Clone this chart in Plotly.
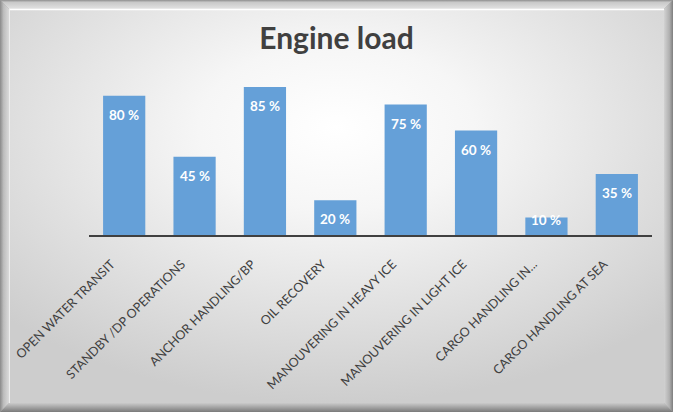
import base64
import plotly.graph_objects as go

# ---- data ----
categories = [
    "OPEN WATER TRANSIT",
    "STANDBY /DP OPERATIONS",
    "ANCHOR HANDLING/BP",
    "OIL RECOVERY",
    "MANOUVERING IN HEAVY ICE",
    "MANOUVERING IN LIGHT ICE",
    "CARGO HANDLING IN...",
    "CARGO HANDLING AT SEA",
]
engine_load = [0.80, 0.45, 0.85, 0.20, 0.75, 0.60, 0.10, 0.35]
title_text = "Engine load"

# ---- layout geometry ----
W, H = 673, 412
ML, MR, MT, MB = 89, 21, 61, 177
PW, PH = W - ML - MR, H - MT - MB
FONT = "Lato, 'Open Sans', sans-serif"
BAR_COLOR = "#65A0D8"
TEXT_GRAY = "#404040"

# ---- background (bevelled frame + radial highlight) ----
svg = f"""<svg xmlns='http://www.w3.org/2000/svg' width='{W}' height='{H}' viewBox='0 0 {W} {H}' preserveAspectRatio='none'>
<defs>
<radialGradient id='g' cx='50%' cy='30%' r='70%'>
<stop offset='0' stop-color='#ffffff'/>
<stop offset='0.3' stop-color='#f6f6f6'/>
<stop offset='1' stop-color='#cdcdcd'/>
</radialGradient>
<linearGradient id='lt' x1='0' x2='0' y1='0' y2='1'>
<stop offset='0' stop-color='#8e8e8e'/><stop offset='0.25' stop-color='#c8c8c8'/><stop offset='1' stop-color='#e2e2e2'/>
</linearGradient>
<linearGradient id='lb' x1='0' x2='0' y1='0' y2='1'>
<stop offset='0' stop-color='#cacaca'/><stop offset='1' stop-color='#7a7a7a'/>
</linearGradient>
<linearGradient id='ll' x1='0' x2='1' y1='0' y2='0'>
<stop offset='0' stop-color='#8a8a8a'/><stop offset='0.4' stop-color='#bdbdbd'/><stop offset='1' stop-color='#dadada'/>
</linearGradient>
<linearGradient id='lr' x1='0' x2='1' y1='0' y2='0'>
<stop offset='0' stop-color='#d2d2d2'/><stop offset='0.6' stop-color='#b0b0b0'/><stop offset='1' stop-color='#7e7e7e'/>
</linearGradient>
</defs>
<rect width='{W}' height='{H}' fill='#a0a0a0'/>
<polygon points='0,0 {W},0 {W-9},9 9,9' fill='url(#lt)'/>
<polygon points='0,{H} {W},{H} {W-9},{H-9} 9,{H-9}' fill='url(#lb)'/>
<polygon points='0,0 9,9 9,{H-9} 0,{H}' fill='url(#ll)'/>
<polygon points='{W},0 {W-9},9 {W-9},{H-9} {W},{H}' fill='url(#lr)'/>
<rect x='9' y='9' width='{W-18}' height='{H-18}' fill='url(#g)'/>
<line x1='9' y1='9.5' x2='{W-9}' y2='9.5' stroke='#ffffff' stroke-width='1.5'/>
<line x1='9.5' y1='9' x2='9.5' y2='{H-9}' stroke='#eeeeee' stroke-width='1'/>
</svg>"""
bg_src = "data:image/svg+xml;base64," + base64.b64encode(svg.encode()).decode()

fig = go.Figure()
fig.add_trace(go.Bar(
    x=categories,
    y=engine_load,
    marker=dict(color=BAR_COLOR, line=dict(width=0)),
    hoverinfo="x+y",
))

# data labels: inside end, white bold
px_per_unit = PH / 1.0
annotations = []
for c, v in zip(categories, engine_load):
    offset = min(19, v * px_per_unit - 15)
    annotations.append(dict(
        x=c, y=v, xref="x", yref="y",
        text=f"<b>{round(v * 100)} %</b>",
        showarrow=False, yanchor="middle", yshift=-offset,
        font=dict(family=FONT, size=13.5, color="white"),
    ))

fig.update_layout(
    width=W, height=H,
    margin=dict(l=ML, r=MR, t=MT, b=MB, pad=0, autoexpand=False),
    paper_bgcolor="#d0d0d0",
    plot_bgcolor="rgba(0,0,0,0)",
    bargap=0.4,
    showlegend=False,
    title=dict(
        text=f"<b>{title_text}</b>",
        x=0.5, xanchor="center",
        y=1 - 38 / H, yanchor="middle", yref="container",
        font=dict(family=FONT, size=30, color=TEXT_GRAY),
    ),
    xaxis=dict(
        showline=True, linecolor=TEXT_GRAY, linewidth=2,
        showgrid=False, ticks="", tickangle=-45,
        tickfont=dict(family=FONT, size=12.5, color=TEXT_GRAY),
        ticklabelshift=-13, ticklabelstandoff=15,
        automargin=False, fixedrange=True,
    ),
    yaxis=dict(
        range=[0, 1], visible=False, showgrid=False, zeroline=False,
        automargin=False, fixedrange=True,
    ),
    annotations=annotations,
    images=[dict(
        source=bg_src, xref="paper", yref="paper",
        x=-ML / PW, y=1 + MT / PH, sizex=W / PW, sizey=H / PH,
        xanchor="left", yanchor="top", sizing="stretch", layer="below",
    )],
)

fig.write_html(
    "out.html",
    config={"displayModeBar": False},
    post_script="document.body.style.margin='0';document.body.style.overflow='hidden';",
)
